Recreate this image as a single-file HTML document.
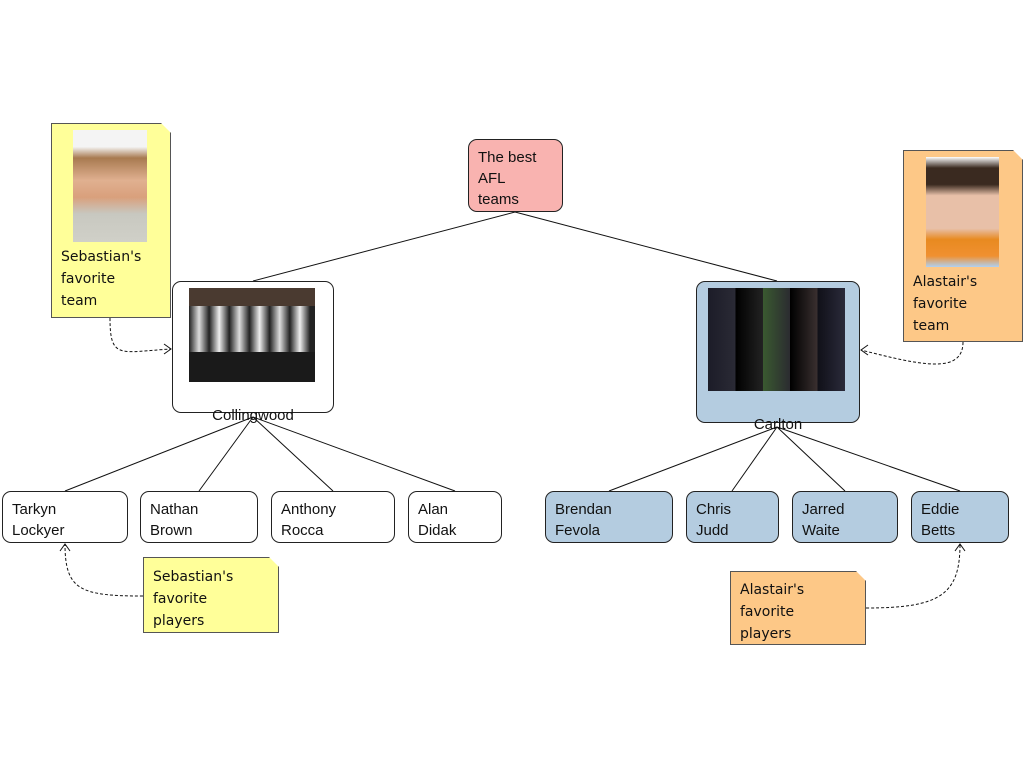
<!DOCTYPE html>
<html><head><meta charset="utf-8"><style>
body{margin:0;width:1024px;height:768px;background:#fff;position:relative;overflow:hidden;font-family:"Liberation Sans",sans-serif}
.b{position:absolute;box-sizing:border-box;border:1px solid #222;border-radius:9px;font-size:15px;line-height:21px;padding:7px 9px;color:#111}
.n{position:absolute;box-sizing:border-box;border:1px solid #555;font-family:"DejaVu Sans",sans-serif;font-size:14px;line-height:22px;padding:0 9px;color:#111;box-shadow:1px 1px 0 #999}
.lbl{position:absolute;font-size:15px;color:#111;text-align:center}
</style></head><body>
<svg width="1024" height="768" style="position:absolute;left:0;top:0">
<g stroke="#111" stroke-width="1" fill="none">
<line x1="515" y1="212" x2="253" y2="281"/><line x1="515" y1="212" x2="777" y2="281"/>
<line x1="253" y1="417" x2="65" y2="491"/><line x1="253" y1="417" x2="199" y2="491"/><line x1="253" y1="417" x2="333" y2="491"/><line x1="253" y1="417" x2="455" y2="491"/>
<line x1="777" y1="427" x2="609" y2="491"/><line x1="777" y1="427" x2="732" y2="491"/><line x1="777" y1="427" x2="845" y2="491"/><line x1="777" y1="427" x2="960" y2="491"/>
<g stroke-dasharray="3,2">
<path d="M110 318 C110 360,120 352,171 349"/>
<path d="M963 342 C963 375,920 365,861 350"/>
<path d="M143 596 C80 596,65 590,65 544"/>
<path d="M866 608 C940 608,960 595,960 544"/>
</g>
<path d="M164 344 L171 349 L164 354"/><path d="M868 345 L861 350 L868 355"/>
<path d="M60 551 L65 544 L70 551"/><path d="M955 551 L960 544 L965 551"/>
</g>
</svg>
<div class="b" style="left:468px;top:139px;width:95px;height:73px;background:#f9b3b0">The best<br>AFL<br>teams</div>
<div class="b" style="left:172px;top:281px;width:162px;height:132px;background:#fff"></div>
<div style="position:absolute;left:189px;top:288px;width:126px;height:94px;background:linear-gradient(90deg,#222 0,#ddd 8%,#222 16%,#eee 24%,#222 32%,#ddd 40%,#222 48%,#eee 56%,#222 64%,#ddd 72%,#222 80%,#eee 88%,#222 96%);"><div style="position:absolute;left:0;right:0;bottom:0;height:30px;background:#1a1a1a"></div><div style="position:absolute;left:0;right:0;top:0;height:18px;background:#4a3a30"></div></div>
<div class="lbl" style="left:172px;top:407px;width:162px">Collingwood</div>
<div class="b" style="left:696px;top:281px;width:164px;height:142px;background:#b4cce0"></div>
<div style="position:absolute;left:708px;top:288px;width:137px;height:103px;background:linear-gradient(90deg,#1c1c28 0,#2a2a35 20%,#000 20%,#222 40%,#3a5a30 40%,#2b2b30 60%,#000 60%,#3a3030 80%,#101018 80%,#2a2a3a 100%)"></div>
<div class="lbl" style="left:696px;top:416px;width:164px">Carlton</div>
<div class="n" style="left:51px;top:123px;width:120px;height:195px;background:#ffff99;padding-top:122px;clip-path:polygon(0 0,110px 0,120px 10px,120px 100%,0 100%)">Sebastian's<br>favorite<br>team</div>
<div style="position:absolute;left:73px;top:130px;width:74px;height:112px;background:linear-gradient(#f4f4f4 0,#f4f4f4 15%,#a87a50 25%,#e0b090 45%,#d9a07c 60%,#c8c8c0 75%,#d0d0c8 100%)"></div>
<div class="n" style="left:903px;top:150px;width:120px;height:192px;background:#fdc887;padding-top:120px;clip-path:polygon(0 0,110px 0,120px 10px,120px 100%,0 100%)">Alastair's<br>favorite<br>team</div>
<div style="position:absolute;left:926px;top:157px;width:73px;height:110px;background:linear-gradient(#fff 0,#3a2a20 10%,#3a2a20 25%,#e8c0a8 35%,#e8c0a8 65%,#e88a20 75%,#f09030 90%,#b0d0f0 100%)"></div>
<div class="n" style="left:143px;top:557px;width:136px;height:76px;background:#ffff99;padding-top:8px;clip-path:polygon(0 0,126px 0,136px 10px,136px 100%,0 100%)">Sebastian's<br>favorite<br>players</div>
<div class="n" style="left:730px;top:571px;width:136px;height:74px;background:#fdc887;padding-top:7px;clip-path:polygon(0 0,126px 0,136px 10px,136px 100%,0 100%)">Alastair's<br>favorite<br>players</div>
<div class="b" style="left:2px;top:491px;width:126px;height:52px">Tarkyn<br>Lockyer</div>
<div class="b" style="left:140px;top:491px;width:118px;height:52px">Nathan<br>Brown</div>
<div class="b" style="left:271px;top:491px;width:124px;height:52px">Anthony<br>Rocca</div>
<div class="b" style="left:408px;top:491px;width:94px;height:52px">Alan<br>Didak</div>
<div class="b" style="left:545px;top:491px;width:128px;height:52px;background:#b4cce0">Brendan<br>Fevola</div>
<div class="b" style="left:686px;top:491px;width:93px;height:52px;background:#b4cce0">Chris<br>Judd</div>
<div class="b" style="left:792px;top:491px;width:106px;height:52px;background:#b4cce0">Jarred<br>Waite</div>
<div class="b" style="left:911px;top:491px;width:98px;height:52px;background:#b4cce0">Eddie<br>Betts</div>
</body></html>
